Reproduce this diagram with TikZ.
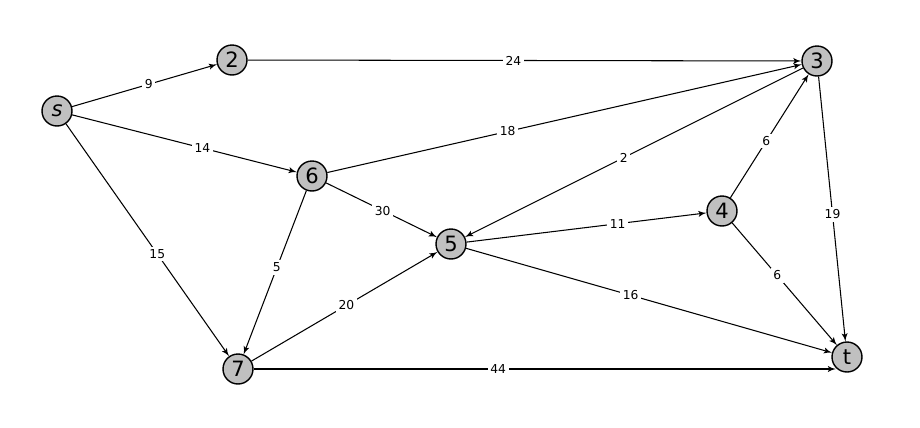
\documentclass[tikz,border=0pt]{standalone}
\usepackage{fontspec}
\setmainfont{DejaVu Sans}
\usepackage{tikz}
\usetikzlibrary{arrows}
\definecolor{nodegray}{HTML}{C0C0C0}

\begin{document}
\begin{tikzpicture}[x=0.02cm,y=-0.02cm,%
vertex/.style={circle,draw,thick,fill=nodegray,minimum size=0.6cm,inner sep=0pt,font=\large},
arrow/.style={draw,semithick,-latex'},
weight/.style={fill=white,inner sep=1.5pt,font=\scriptsize}
]
\useasboundingbox (0,0) rectangle (920,427);
\node[style=vertex] (s) at (57,111) {\textit{s}};
\node[style=vertex] (n2) at (232,60) {2};
\node[style=vertex] (n3) at (817,61) {3};
\node[style=vertex] (n6) at (312,176) {6};
\node[style=vertex] (n5) at (451,244) {5};
\node[style=vertex] (n4) at (722,211) {4};
\node[style=vertex] (n7) at (238,369) {7};
\node[style=vertex] (t) at (847,357) {t};
\path[style=arrow] (s) -- node[style=weight,pos=0.53] {9} (n2);
\path[style=arrow] (n2) -- node[style=weight,pos=0.48] {24} (n3);
\path[style=arrow] (s) -- node[style=weight,pos=0.58] {14} (n6);
\path[style=arrow] (n6) -- node[style=weight,pos=0.38] {18} (n3);
\path[style=arrow] (n3) -- node[style=weight,pos=0.53] {2} (n5);
\path[style=arrow] (n6) -- node[style=weight,pos=0.51] {30} (n5);
\path[style=arrow] (s) -- node[style=weight,pos=0.56] {15} (n7);
\path[style=arrow] (n6) -- node[style=weight,pos=0.47] {5} (n7);
\path[style=arrow] (n4) -- node[style=weight,pos=0.46] {6} (n3);
\path[style=arrow] (n3) -- node[style=weight,pos=0.52] {19} (t);
\path[style=arrow] (n5) -- node[style=weight,pos=0.63] {11} (n4);
\path[style=arrow] (n4) -- node[style=weight,pos=0.43] {6} (t);
\path[style=arrow] (n7) -- node[style=weight,pos=0.51] {20} (n5);
\path[style=arrow] (n5) -- node[style=weight,pos=0.45] {16} (t);
\path[style=arrow] (n7) -- node[style=weight,pos=0.42] {44} (n7 -| t.south west);
\end{tikzpicture}
\end{document}
